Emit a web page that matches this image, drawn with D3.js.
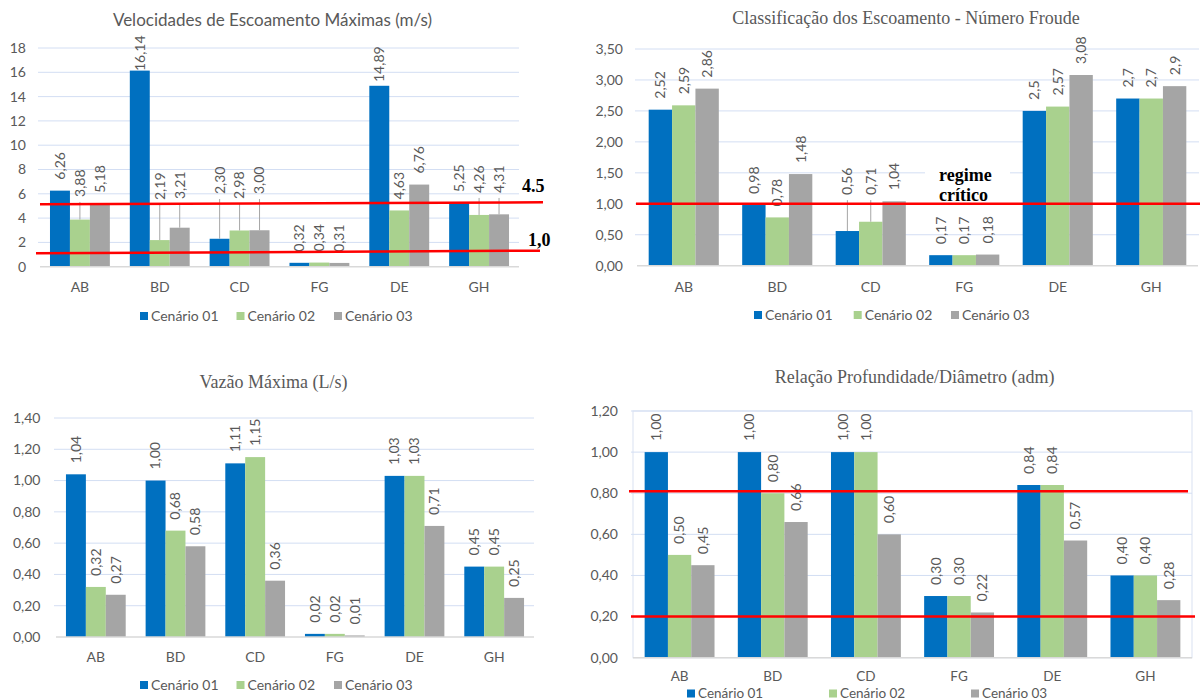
<!DOCTYPE html>
<html>
<head>
<meta charset="utf-8">
<script src="https://cdn.jsdelivr.net/npm/d3@7"></script>
<style>
    body { margin: 0; background: #fff; }
    text { font-family: Lato, 'Open Sans', sans-serif; fill: #595959; }
    .serif { font-family: 'Liberation Serif', 'Times New Roman', serif; }
</style>
</head>
<body>
<svg id="chart" width="1200" height="700"></svg>
<script>
// categories and series
const categories = ['AB', 'BD', 'CD', 'FG', 'DE', 'GH'];
const scenarios = ['Cenário 01', 'Cenário 02', 'Cenário 03'];
const colors = ['#0070C0', '#A9D18E', '#A5A5A5'];

// velocidades (m/s)
const velocidade01 = [6.26, 16.14, 2.30, 0.32, 14.89, 5.25];
const velocidade02 = [3.88, 2.19, 2.98, 0.34, 4.63, 4.26];
const velocidade03 = [5.18, 3.21, 3.00, 0.31, 6.76, 4.31];
const velTicks = [0, 2, 4, 6, 8, 10, 12, 14, 16, 18];
const velLimits = [{label: '4.5', from: 5.13, to: 5.30}, {label: '1,0', from: 1.10, to: 1.32}];
// labels that were dragged in the original: [category, scenario, value where the label starts]
const velMovedLabels = [['AB', 1, 5.74], ['BD', 0, 16.1], ['BD', 1, 5.49], ['BD', 2, 5.57],
    ['CD', 0, 5.98], ['CD', 1, 5.57], ['CD', 2, 5.98], ['DE', 0, 15.2], ['GH', 1, 6.07], ['GH', 2, 6.07]];

// numero de Froude
const froude01 = [2.52, 0.98, 0.56, 0.17, 2.5, 2.7];
const froude02 = [2.59, 0.78, 0.71, 0.17, 2.57, 2.7];
const froude03 = [2.86, 1.48, 1.04, 0.18, 3.08, 2.9];
const froudeTicks = [0, 0.5, 1, 1.5, 2, 2.5, 3, 3.5];
const froudeLimits = [{label: '', from: 1, to: 1}];
const froudeMovedLabels = [['CD', 0, 1.14], ['CD', 1, 1.14]];

// vazao maxima (L/s)
const vazao01 = [1.04, 1.00, 1.11, 0.02, 1.03, 0.45];
const vazao02 = [0.32, 0.68, 1.15, 0.02, 1.03, 0.45];
const vazao03 = [0.27, 0.58, 0.36, 0.01, 0.71, 0.25];
const vazaoTicks = [0, 0.2, 0.4, 0.6, 0.8, 1.0, 1.2, 1.4];

// relacao profundidade/diametro
const relacao01 = [1.00, 1.00, 1.00, 0.30, 0.84, 0.40];
const relacao02 = [0.50, 0.80, 1.00, 0.30, 0.84, 0.40];
const relacao03 = [0.45, 0.66, 0.60, 0.22, 0.57, 0.28];
const relacaoTicks = [0, 0.2, 0.4, 0.6, 0.8, 1.0, 1.2];
const relacaoLimits = [{label: '', from: 0.81, to: 0.81}, {label: '', from: 0.2, to: 0.2}];

let svg = d3.select('#chart');

let comma = function(f) {
    return function(v) { return f(v).replace('.', ','); };
};
let fmt2 = comma(d3.format('.2f'));
let fmtGeneral = function(v) { return String(v).replace('.', ','); };

function drawPanel(cfg) {
    let g = svg.append('g');

    let x0 = d3.scaleBand()
        .domain(categories)
        .range(cfg.xRange)
        .paddingInner(0.25)
        .paddingOuter(0.125);
    let x1 = d3.scaleBand()
        .domain([0, 1, 2])
        .range([0, x0.bandwidth()]);
    let y = d3.scaleLinear()
        .domain([0, cfg.ticks[cfg.ticks.length - 1]])
        .range(cfg.yRange);

    let gridRight = cfg.gridRight || cfg.xRange[1];
    let fontSize = cfg.fontSize || '14px';

    // plot area border (only on last chart)
    if (cfg.box) {
        g.append('rect')
            .attr('x', cfg.xRange[0])
            .attr('y', y.range()[1])
            .attr('width', cfg.xRange[1] - cfg.xRange[0])
            .attr('height', y.range()[0] - y.range()[1])
            .attr('fill', 'none')
            .attr('stroke', '#dfe6f3')
            .attr('stroke-width', 1.2);
    }

    // gridlines
    g.selectAll('.grid')
        .data(cfg.ticks.filter(function(t) { return t > 0; }))
        .enter().append('line')
        .attr('x1', cfg.xRange[0] - 2)
        .attr('x2', gridRight)
        .attr('y1', function(d) { return y(d); })
        .attr('y2', function(d) { return y(d); })
        .attr('stroke', '#d3def3')
        .attr('stroke-width', 1);

    // y tick labels
    g.selectAll('.ytick')
        .data(cfg.ticks)
        .enter().append('text')
        .attr('x', cfg.tickRight)
        .attr('y', function(d) { return y(d); })
        .attr('dy', '0.35em')
        .attr('text-anchor', 'end')
        .style('font-size', '14px')
        .text(cfg.tickFormat);

    // white box behind an annotation
    if (cfg.note) {
        g.append('rect')
            .attr('x', cfg.note.box[0])
            .attr('y', cfg.note.box[1])
            .attr('width', cfg.note.box[2])
            .attr('height', cfg.note.box[3])
            .attr('fill', '#fff');
    }

    // bars
    let rows = [];
    categories.forEach(function(c, i) {
        cfg.series.forEach(function(s, k) {
            rows.push({cat: c, k: k, value: s[i]});
        });
    });

    g.selectAll('.bar')
        .data(rows)
        .enter().append('rect')
        .attr('x', function(d) { return x0(d.cat) + x1(d.k); })
        .attr('y', function(d) { return y(d.value); })
        .attr('width', x1.bandwidth())
        .attr('height', function(d) { return y(0) - y(d.value); })
        .attr('fill', function(d) { return colors[d.k]; });

    // baseline
    g.append('line')
        .attr('x1', cfg.xRange[0])
        .attr('x2', cfg.xRange[1])
        .attr('y1', y(0))
        .attr('y2', y(0))
        .attr('stroke', '#d9d9d9')
        .attr('stroke-width', 1.5);

    // data labels, rotated, with leader lines for the moved ones
    let moved = cfg.moved || [];
    rows.forEach(function(d) {
        let cx = x0(d.cat) + x1(d.k) + x1.bandwidth() / 2;
        let barTop = y(d.value);
        let bottom = barTop - 11;
        moved.forEach(function(m) {
            if (m[0] === d.cat && m[1] === d.k) bottom = y(m[2]);
        });
        if (barTop - bottom > 16) {
            g.append('line')
                .attr('x1', cx).attr('x2', cx)
                .attr('y1', bottom + 5).attr('y2', barTop)
                .attr('stroke', '#a6a6a6')
                .attr('stroke-width', 1);
        }
        g.append('text')
            .attr('transform', 'translate(' + cx + ',' + bottom + ') rotate(-90)')
            .attr('dy', '0.35em')
            .attr('text-anchor', 'start')
            .style('font-size', '14px')
            .text(cfg.labelFormat(d.value));
    });

    // x category labels
    g.selectAll('.xlab')
        .data(categories)
        .enter().append('text')
        .attr('x', function(d) { return x0(d) + x0.bandwidth() / 2; })
        .attr('y', cfg.xLabelY)
        .attr('dy', '0.35em')
        .attr('text-anchor', 'middle')
        .style('font-size', fontSize)
        .text(function(d) { return d; });

    // red limit lines
    (cfg.limits || []).forEach(function(l, i) {
        let ext = cfg.limitExtent[i];
        g.append('line')
            .attr('x1', ext[0])
            .attr('x2', ext[1])
            .attr('y1', y(l.from))
            .attr('y2', y(l.to))
            .attr('stroke', '#ff0000')
            .attr('stroke-width', 2.5);
        if (l.label) {
            g.append('text')
                .attr('class', 'serif')
                .attr('x', ext[1] + cfg.limitLabelOffset[i][0])
                .attr('y', y(l.to) + cfg.limitLabelOffset[i][1])
                .attr('dy', '0.35em')
                .style('font-size', '18px')
                .style('font-weight', 'bold')
                .style('fill', '#000')
                .text(l.label);
        }
    });

    if (cfg.note) {
        g.selectAll('.note')
            .data(cfg.note.lines)
            .enter().append('text')
            .attr('class', 'serif')
            .attr('x', cfg.note.x)
            .attr('y', function(d, i) { return cfg.note.y + i * 20; })
            .attr('dy', '0.35em')
            .style('font-size', '18px')
            .style('font-weight', 'bold')
            .style('fill', '#000')
            .text(function(d) { return d; });
    }

    // title
    g.append('text')
        .attr('class', cfg.serifTitle ? 'serif' : null)
        .attr('x', cfg.title.x)
        .attr('y', cfg.title.y)
        .attr('dy', '0.35em')
        .attr('text-anchor', 'middle')
        .style('font-size', cfg.serifTitle ? '18px' : '17px')
        .text(cfg.title.text);

    // legend
    let leg = g.selectAll('.leg')
        .data(scenarios)
        .enter().append('g')
        .attr('transform', function(d, i) {
            return 'translate(' + cfg.legendX[i] + ',' + cfg.legendY + ')';
        });
    leg.append('rect')
        .attr('x', 0).attr('y', -4)
        .attr('width', 8).attr('height', 8)
        .attr('fill', function(d, i) { return colors[i]; });
    leg.append('text')
        .attr('x', 11)
        .attr('dy', '0.35em')
        .style('font-size', fontSize)
        .text(function(d) { return d; });
}

drawPanel({
    series: [velocidade01, velocidade02, velocidade03],
    ticks: velTicks,
    tickFormat: function(d) { return d; },
    labelFormat: fmt2,
    xRange: [40, 519],
    yRange: [266.7, 48],
    tickRight: 26,
    xLabelY: 287,
    legendY: 316,
    legendX: [140, 236.5, 334],
    title: {text: 'Velocidades de Escoamento Máximas (m/s)', x: 272.5, y: 20},
    moved: velMovedLabels,
    limits: velLimits,
    limitExtent: [[40, 543], [36, 540]],
    limitLabelOffset: [[-21, -17], [-12, -11]]
});

drawPanel({
    series: [froude01, froude02, froude03],
    ticks: froudeTicks,
    tickFormat: fmt2,
    labelFormat: fmtGeneral,
    xRange: [637, 1198],
    gridRight: 1199,
    yRange: [265.7, 49],
    tickRight: 623,
    xLabelY: 287,
    legendY: 315,
    legendX: [754, 853.7, 951],
    serifTitle: true,
    title: {text: 'Classificação dos Escoamento - Número Froude', x: 906, y: 18},
    moved: froudeMovedLabels,
    limits: froudeLimits,
    limitExtent: [[636, 1200]],
    limitLabelOffset: [[0, 0]],
    note: {lines: ['regime', 'crítico'], x: 939, y: 175, box: [925, 163, 85, 36]}
});

drawPanel({
    series: [vazao01, vazao02, vazao03],
    ticks: vazaoTicks,
    tickFormat: fmt2,
    labelFormat: fmt2,
    xRange: [56, 534],
    yRange: [637, 418],
    tickRight: 40.5,
    xLabelY: 657,
    legendY: 685,
    legendX: [140, 236.5, 334],
    serifTitle: true,
    title: {text: 'Vazão Máxima (L/s)', x: 273.6, y: 382}
});

drawPanel({
    series: [relacao01, relacao02, relacao03],
    ticks: relacaoTicks,
    tickFormat: fmt2,
    labelFormat: fmt2,
    xRange: [633, 1192],
    yRange: [657.7, 411],
    tickRight: 618,
    xLabelY: 676,
    legendY: 693.5,
    legendX: [687, 829, 971],
    fontSize: '13.5px',
    serifTitle: true,
    box: true,
    title: {text: 'Relação Profundidade/Diâmetro (adm)', x: 914.6, y: 377},
    limits: relacaoLimits,
    limitExtent: [[629, 1188], [631, 1195]]
});
</script>
</body>
</html>
